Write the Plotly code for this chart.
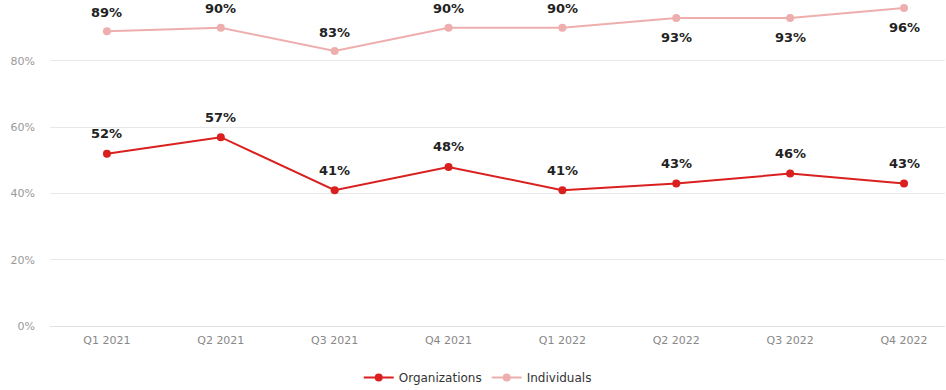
import plotly.graph_objects as go

quarters = ["Q1 2021", "Q2 2021", "Q3 2021", "Q4 2021", "Q1 2022", "Q2 2022", "Q3 2022", "Q4 2022"]
organizations = [52, 57, 41, 48, 41, 43, 46, 43]
individuals = [89, 90, 83, 90, 90, 93, 93, 96]
ind_label_below = [False, False, False, False, False, True, True, True]
y_ticks = [0, 20, 40, 60, 80, 100]

ORG_COLOR = "#d9201f"
IND_COLOR = "#efaeae"

fig = go.Figure()
fig.add_trace(go.Scatter(
    x=list(range(len(quarters))), y=organizations, name="Organizations",
    mode="lines+markers", line=dict(color=ORG_COLOR, width=2),
    marker=dict(size=8, color=ORG_COLOR), cliponaxis=False,
))
fig.add_trace(go.Scatter(
    x=list(range(len(quarters))), y=individuals, name="Individuals",
    mode="lines+markers", line=dict(color=IND_COLOR, width=2),
    marker=dict(size=8, color=IND_COLOR), cliponaxis=False,
))

annotations = []
lab_font = dict(family="DejaVu Sans", size=13, color="#222222")
for i, v in enumerate(organizations):
    annotations.append(dict(x=i, y=v, text=f"<b>{v}%</b>", showarrow=False,
                            yshift=20, font=lab_font))
for i, v in enumerate(individuals):
    annotations.append(dict(x=i, y=v, text=f"<b>{v}%</b>", showarrow=False,
                            yshift=-20 if ind_label_below[i] else 19, font=lab_font))

fig.update_layout(
    width=946, height=390,
    margin=dict(l=50, r=1, t=0, b=64, autoexpand=False),
    paper_bgcolor="white", plot_bgcolor="white",
    showlegend=True,
    legend=dict(orientation="h", xref="container", x=0.505, xanchor="center",
                yref="container", y=0.032, yanchor="middle",
                font=dict(family="DejaVu Sans", size=12, color="#333333"),
                itemwidth=30, tracegroupgap=0),
    annotations=annotations,
    xaxis=dict(
        tickmode="array", tickvals=list(range(len(quarters))), ticktext=quarters,
        range=[-0.5, 7.36], showgrid=False, zeroline=False, showline=False,
        tickfont=dict(family="DejaVu Sans", size=11, color="#888888"),
        ticks="", ticklabelstandoff=6, automargin=False,
    ),
    yaxis=dict(
        range=[0, 98.4], tickmode="array", tickvals=y_ticks,
        ticktext=[f"{t}%" for t in y_ticks],
        showgrid=True, gridcolor="#e8e8e8", gridwidth=1,
        zeroline=True, zerolinecolor="#e0e0e0", zerolinewidth=1,
        showline=False,
        tickfont=dict(family="DejaVu Sans", size=11, color="#999999"),
        ticks="", ticklabelstandoff=14, automargin=False,
    ),
)

fig.write_html("out.html", config={"displayModeBar": False},
               post_script="document.body.style.margin='0';")
